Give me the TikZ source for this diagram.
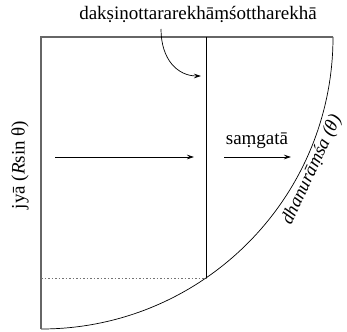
\documentclass[tikz,border=0pt]{standalone}
\usepackage{fontspec}
\setmainfont{Liberation Serif}
\usetikzlibrary{arrows.meta}
\begin{document}
\begin{tikzpicture}[x=1pt,y=1pt,
  font=\fontsize{19}{22}\selectfont,
  frameline/.style={draw=black!60, line width=1.2pt},
  thinline/.style={draw=black, line width=0.7pt},
  dotline/.style={draw=black!55, line width=0.8pt, dash pattern=on 1.5pt off 2pt},
  arr/.style={-{Stealth[length=7pt,width=4.5pt]}, line width=0.7pt},
  lbl/.style={inner sep=0pt}]
\useasboundingbox (0,0) rectangle (347,-331);
\coordinate (O) at (41,-37);
\coordinate (E) at (333,-37);
\coordinate (S) at (41,-329);
\coordinate (T) at (206,-37);
\coordinate (B) at (206,-278);
\coordinate (D) at (41,-278);
% arc and frame
\draw[thinline] (E) arc[start angle=0, end angle=-90, radius=292];
\draw[frameline] (E) -- (O) -- (S);
\draw[thinline] (T) -- (B);
\draw[dotline] (D) -- (B);
% arrows
\coordinate (a1s) at (55,-157);
\coordinate (a1e) at (194,-157);
\coordinate (a2s) at (224,-157);
\coordinate (a2e) at (291,-157);
\draw[arr] (a1s) -- (a1e);
\draw[arr] (a2s) -- (a2e);
% labels
\node[lbl, anchor=base] (toplbl) at (198,-20) {dakṣiṇottararekhāṃśottharekhā};
\node[lbl, anchor=base] (samg) at (257,-144) {saṃgatā};
\node[lbl, rotate=90] (jya) at (20,-165) {jyā (\textit{R}sin θ)};
\node[lbl, rotate=65, font=\fontsize{18.5}{21}\selectfont] (dhanu) at (312,-170) {\textit{dhanurāṃśa (θ)}};
% curved arrow
\coordinate (cs) at (161,-29);
\coordinate (ce) at (201,-76);
\draw[arr] (cs) .. controls (161,-60) and (178,-76) .. (ce);
\end{tikzpicture}
\end{document}
